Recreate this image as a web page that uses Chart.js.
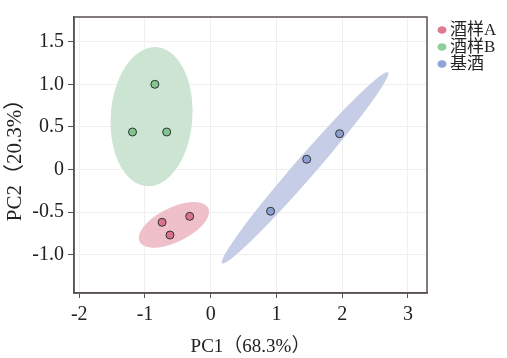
<!DOCTYPE html>
<html lang="zh">
<head>
    <meta charset="UTF-8">
    <title>PCA</title>
    <script src="https://cdn.jsdelivr.net/npm/chart.js"></script>
    <style>
        body { margin: 0; background: #fff; }
        #wrap { width: 507px; height: 358px; }
    </style>
</head>
<body>
    <div id="wrap"><canvas id="pca"></canvas></div>

    <script>
        // group names
        const groups = ['酒样A', '酒样B', '基酒'];

        // scores (PC1, PC2)
        const pc1A = [-0.74, -0.32, -0.62];
        const pc2A = [-0.62, -0.55, -0.77];
        const pc1B = [-0.85, -1.19, -0.67];
        const pc2B = [1.00, 0.44, 0.44];
        const pc1Base = [0.91, 1.46, 1.96];
        const pc2Base = [-0.49, 0.12, 0.42];

        // confidence ellipses, data units: centre, semi-axes, angle (deg)
        const ellCx = [-0.56, -0.90, 1.435];
        const ellCy = [-0.65, 0.62, 0.02];
        const ellMajor = [0.56, 0.82, 1.69];
        const ellMinor = [0.21, 0.62, 0.14];
        const ellAngle = [18.8, 82, 41.5];

        const xTicks = [-2, -1, 0, 1, 2, 3];
        const yTicks = [-1.0, -0.5, 0, 0.5, 1.0, 1.5];

        const pointColors = ['#d9728a', '#80c490', '#8b9fd2'];
        const ellColors = ['#efc0c9', '#cbe5d2', '#c6cee7'];
        const legendColors = ['#de7d92', '#8ccf9b', '#8fa2d6'];

        const serif = "'Liberation Serif', 'Noto Sans CJK SC', serif";

        const toPts = (xs, ys) => xs.map((v, i) => ({ x: v, y: ys[i] }));

        const ellipsePlugin = {
            id: 'ellipses',
            beforeDatasetsDraw(chart) {
                const { ctx, chartArea: a, scales: { x, y } } = chart;
                const sx = x.getPixelForValue(1) - x.getPixelForValue(0);
                const sy = y.getPixelForValue(0) - y.getPixelForValue(1);
                ctx.save();
                ctx.beginPath();
                ctx.rect(a.left, a.top, a.right - a.left, a.bottom - a.top);
                ctx.clip();
                groups.forEach((g, i) => {
                    ctx.save();
                    ctx.translate(x.getPixelForValue(ellCx[i]), y.getPixelForValue(ellCy[i]));
                    ctx.scale(sx, -sy);
                    ctx.rotate(ellAngle[i] * Math.PI / 180);
                    ctx.beginPath();
                    ctx.ellipse(0, 0, ellMajor[i], ellMinor[i], 0, 0, Math.PI * 2);
                    ctx.restore();
                    ctx.fillStyle = ellColors[i];
                    ctx.fill();
                });
                ctx.restore();
            }
        };

        const framePlugin = {
            id: 'frame',
            afterDraw(chart) {
                const { ctx, chartArea: a } = chart;
                ctx.save();
                ctx.strokeStyle = '#5a5050';
                ctx.lineWidth = 1.5;
                ctx.strokeRect(a.left, a.top, a.right - a.left, a.bottom - a.top);

                // legend
                ctx.font = '17px ' + serif;
                ctx.textBaseline = 'middle';
                groups.forEach((g, i) => {
                    const cy = 30 + i * 17;
                    ctx.beginPath();
                    ctx.ellipse(442, cy, 4.5, 3.8, 0, 0, Math.PI * 2);
                    ctx.fillStyle = legendColors[i];
                    ctx.fill();
                    ctx.fillStyle = '#222';
                    ctx.fillText(g, 450, cy + 1);
                });
                ctx.restore();
            }
        };

        new Chart(document.getElementById('pca'), {
            type: 'scatter',
            data: {
                datasets: [
                    { label: groups[0], data: toPts(pc1A, pc2A) },
                    { label: groups[1], data: toPts(pc1B, pc2B) },
                    { label: groups[2], data: toPts(pc1Base, pc2Base) }
                ].map((d, i) => Object.assign(d, {
                    backgroundColor: pointColors[i],
                    borderColor: '#333',
                    borderWidth: 1,
                    pointRadius: 4,
                    pointHoverRadius: 4
                }))
            },
            options: {
                responsive: true,
                maintainAspectRatio: false,
                animation: false,
                layout: { padding: { top: 17, right: 80, left: 0, bottom: 0 } },
                plugins: { legend: { display: false }, tooltip: { enabled: false } },
                scales: {
                    x: {
                        min: -2.08, max: 3.29,
                        afterBuildTicks: s => { s.ticks = xTicks.map(v => ({ value: v })); },
                        afterFit: s => { s.height = 65; },
                        ticks: { color: '#222', font: { family: serif, size: 20 }, padding: 5, maxRotation: 0 },
                        grid: { color: '#efefef', tickColor: '#555', tickLength: 5 },
                        border: { color: '#5a5050', width: 1.5 },
                        title: {
                            display: true, text: 'PC1（68.3%）', color: '#222',
                            font: { family: serif, size: 19 }, padding: { top: 0, bottom: 0 }
                        }
                    },
                    y: {
                        min: -1.45, max: 1.79,
                        afterBuildTicks: s => { s.ticks = yTicks.map(v => ({ value: v })); },
                        afterFit: s => { s.width = 74; },
                        ticks: {
                            color: '#222', font: { family: serif, size: 20 }, padding: 4,
                            callback: v => v === 0 ? '0' : v.toFixed(1)
                        },
                        grid: { color: '#efefef', tickColor: '#555', tickLength: 6 },
                        border: { color: '#5a5050', width: 1.5 },
                        title: {
                            display: true, text: 'PC2（20.3%）', color: '#222',
                            font: { family: serif, size: 21 }, padding: { top: 3, bottom: 0 }
                        }
                    }
                }
            },
            plugins: [ellipsePlugin, framePlugin]
        });
    </script>
</body>
</html>
